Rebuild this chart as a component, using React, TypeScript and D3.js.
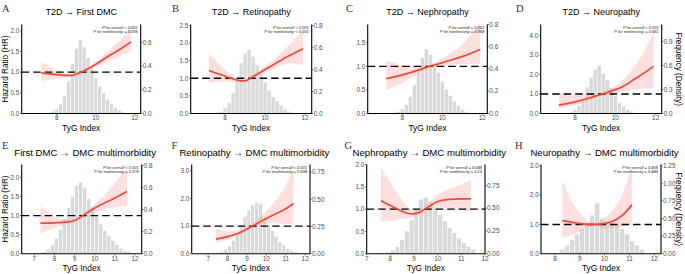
import React from "react";
import * as d3 from "d3";

// ---------- DATA ----------
const panelIds = ["A", "B", "C", "D", "E", "F", "G", "H"];
const titles = [
  "T2D → First DMC",
  "T2D → Retinopathy",
  "T2D → Nephropathy",
  "T2D → Neuropathy",
  "First DMC → DMC multimorbidity",
  "Retinopathy → DMC multimorbidity",
  "Nephropathy → DMC multimorbidity",
  "Neuropathy → DMC multimorbidity",
];
const pOverall = [
  "P for overall < 0.001",
  "P for overall < 0.001",
  "P for overall = 0.052",
  "P for overall < 0.001",
  "P for overall < 0.001",
  "P for overall < 0.001",
  "P for overall = 0.048",
  "P for overall = 0.408",
];
const pNonlinear = [
  "P for nonlinearity = 0.006",
  "P for nonlinearity < 0.001",
  "P for nonlinearity = 0.884",
  "P for nonlinearity = 0.561",
  "P for nonlinearity = 0.376",
  "P for nonlinearity = 0.834",
  "P for nonlinearity = 0.13",
  "P for nonlinearity = 0.449",
];

const binWidth = 0.2;
const histStarts = [7.3, 7.3, 7.5, 7.5, 7.2, 7.4, 7.6, 8.2];
const histA = [0.005, 0.01, 0.02, 0.04, 0.08, 0.15, 0.27, 0.42, 0.55, 0.62, 0.56, 0.47, 0.38, 0.3, 0.23, 0.17, 0.12, 0.08, 0.05, 0.03, 0.015];
const histB = [0.005, 0.01, 0.02, 0.05, 0.1, 0.19, 0.32, 0.46, 0.55, 0.58, 0.52, 0.44, 0.36, 0.28, 0.21, 0.15, 0.11, 0.07, 0.04, 0.02, 0.01];
const histC = [0.01, 0.02, 0.04, 0.08, 0.15, 0.26, 0.38, 0.5, 0.58, 0.53, 0.45, 0.37, 0.29, 0.22, 0.16, 0.11, 0.07, 0.04, 0.02];
const histD = [0.01, 0.02, 0.05, 0.1, 0.18, 0.33, 0.45, 0.55, 0.6, 0.5, 0.42, 0.32, 0.22, 0.14, 0.09, 0.05, 0.03, 0.01];
const histE = [0.01, 0.02, 0.04, 0.08, 0.14, 0.22, 0.32, 0.42, 0.52, 0.62, 0.65, 0.6, 0.5, 0.42, 0.34, 0.27, 0.21, 0.16, 0.12, 0.08, 0.05, 0.03, 0.02];
const histF = [0.01, 0.02, 0.04, 0.07, 0.12, 0.19, 0.27, 0.34, 0.4, 0.45, 0.47, 0.46, 0.33, 0.27, 0.21, 0.16, 0.11, 0.08, 0.05, 0.03, 0.02];
const histG = [0.01, 0.02, 0.04, 0.08, 0.15, 0.25, 0.37, 0.5, 0.6, 0.62, 0.57, 0.5, 0.43, 0.36, 0.29, 0.23, 0.17, 0.12, 0.08, 0.05];
const histH = [0.06, 0.12, 0.2, 0.28, 0.36, 0.42, 0.55, 0.72, 0.5, 0.47, 0.45, 0.42, 0.36, 0.28, 0.18, 0.12, 0.06];

// [TyG, HR, lower, upper]
type Pt = [number, number, number, number];
const curveA: Pt[] = [[7.2, 0.98, 0.78, 1.24], [7.8, 0.95, 0.83, 1.1], [8.4, 0.92, 0.87, 0.98], [8.8, 0.92, 0.9, 0.95], [9.1, 0.97, 0.96, 0.99], [9.6, 1.08, 1.04, 1.12], [10.2, 1.25, 1.17, 1.33], [10.8, 1.43, 1.3, 1.58], [11.4, 1.6, 1.42, 1.85], [11.8, 1.73, 1.5, 2.1]];
const curveB: Pt[] = [[7.2, 1.22, 0.87, 1.7], [7.8, 1.1, 0.9, 1.35], [8.4, 0.98, 0.9, 1.06], [8.8, 0.93, 0.9, 0.96], [9.0, 0.93, 0.91, 0.95], [9.4, 1.05, 1.0, 1.1], [10.0, 1.25, 1.17, 1.35], [10.6, 1.45, 1.3, 1.62], [11.2, 1.64, 1.42, 1.95], [11.9, 1.84, 1.38, 2.35]];
const curveC: Pt[] = [[7.2, 0.74, 0.5, 1.12], [8.0, 0.82, 0.65, 1.03], [8.8, 0.92, 0.85, 0.99], [9.2, 0.98, 0.95, 1.01], [9.6, 1.03, 0.98, 1.08], [10.4, 1.13, 1.02, 1.27], [11.2, 1.24, 1.05, 1.55], [11.9, 1.36, 1.05, 1.95]];
const curveD: Pt[] = [[7.2, 0.43, 0.26, 1.1], [8.0, 0.6, 0.42, 0.95], [8.8, 0.82, 0.7, 0.95], [9.2, 0.95, 0.88, 1.02], [9.8, 1.15, 1.0, 1.3], [10.4, 1.4, 1.12, 1.75], [11.0, 1.8, 1.22, 2.5], [11.6, 2.2, 1.28, 3.5], [11.9, 2.43, 1.3, 4.3]];
const curveE: Pt[] = [[7.3, 0.8, 0.53, 1.25], [8.0, 0.81, 0.68, 0.97], [8.6, 0.83, 0.76, 0.9], [9.0, 0.87, 0.83, 0.91], [9.4, 1.0, 0.95, 1.05], [10.0, 1.2, 1.08, 1.32], [10.6, 1.36, 1.18, 1.6], [11.0, 1.46, 1.22, 1.85], [11.6, 1.63, 1.25, 2.25]];
const curveF: Pt[] = [[7.4, 0.53, 0.4, 0.93], [8.0, 0.62, 0.5, 0.8], [8.6, 0.75, 0.67, 0.85], [9.2, 0.97, 0.9, 1.05], [9.8, 1.2, 1.05, 1.4], [10.4, 1.42, 1.1, 1.85], [11.0, 1.63, 1.08, 2.5], [11.4, 1.82, 1.05, 3.15]];
const curveG: Pt[] = [[7.6, 1.19, 0.72, 1.94], [8.0, 1.08, 0.74, 1.6], [8.5, 0.95, 0.78, 1.2], [8.9, 0.89, 0.82, 1.0], [9.2, 0.92, 0.88, 0.97], [9.6, 1.05, 0.95, 1.12], [10.0, 1.17, 1.02, 1.32], [10.5, 1.22, 1.02, 1.45], [11.0, 1.23, 0.98, 1.55], [11.4, 1.23, 0.95, 1.65]];
const curveH: Pt[] = [[8.3, 1.13, 0.55, 2.5], [8.7, 1.07, 0.65, 1.75], [9.1, 1.02, 0.8, 1.3], [9.5, 1.0, 0.95, 1.05], [9.9, 1.02, 0.9, 1.18], [10.3, 1.1, 0.88, 1.45], [10.7, 1.3, 0.92, 2.0], [11.1, 1.67, 0.98, 3.0]];

const hists = [histA, histB, histC, histD, histE, histF, histG, histH];
const curves = [curveA, curveB, curveC, curveD, curveE, curveF, curveG, curveH];

const xTicksTop = [8, 10, 12];
const xTicksBottom = [7, 8, 9, 10, 11, 12];
const xTicksH = [8, 9, 10, 11, 12];
const leftTicks = [
  [0, 0.5, 1.0, 1.5, 2.0],
  [0, 0.5, 1.0, 1.5, 2.0, 2.5],
  [0, 0.5, 1.0, 1.5],
  [0, 1, 2, 3, 4],
  [0, 0.5, 1.0, 1.5, 2.0],
  [0, 1, 2, 3],
  [0, 0.5, 1.0, 1.5, 2.0],
  [0, 1, 2, 3],
];
const rightTicks = [
  [0, 0.2, 0.4, 0.6],
  [0, 0.2, 0.4, 0.6, 0.8],
  [0, 0.2, 0.4, 0.6, 0.8],
  [0, 0.3, 0.6, 0.9],
  [0, 0.2, 0.4, 0.6, 0.8],
  [0, 0.25, 0.5, 0.75],
  [0, 0.25, 0.5, 0.75],
  [0, 0.25, 0.5, 0.75, 1.0, 1.25],
];
const leftDigits = [1, 1, 1, 1, 1, 1, 1, 1];
const rightDigits = [1, 1, 1, 1, 1, 2, 2, 2];
const xDomains: [number, number][] = [
  [6.2, 12.3], [6.28, 12.33], [6.27, 12.25], [6.3, 12.3],
  [6.37, 12.33], [6.15, 12.25], [7.0, 12.0], [7.44, 12.27],
];
const leftMax = [2.15, 2.53, 1.89, 4.57, 2.34, 3.23, 2.0, 3.05];
const rightMax = [0.75, 0.81, 0.8, 1.11, 0.81, 0.82, 0.98, 1.27];

// ---------- LAYOUT ----------
const plotBoxes = [
  { l: 21.7, r: 140.7, t: 24.5, b: 113.5, lx: 2, row: 0 },
  { l: 190.7, r: 311.7, t: 24.5, b: 113.5, lx: 172, row: 0 },
  { l: 367.7, r: 487.3, t: 24.5, b: 113.5, lx: 346, row: 0 },
  { l: 540.7, r: 661.7, t: 24.5, b: 113.5, lx: 516, row: 0 },
  { l: 21.7, r: 141.7, t: 164.5, b: 253.7, lx: 2, row: 1 },
  { l: 191.7, r: 310, t: 164.5, b: 253.7, lx: 171.5, row: 1 },
  { l: 366.7, r: 485, t: 164.5, b: 253.7, lx: 344.5, row: 1 },
  { l: 541, r: 661, t: 164.5, b: 253.7, lx: 515, row: 1 },
];

const SANS = "'Liberation Sans', Arial, sans-serif";
const SERIF = "'Liberation Serif', 'Times New Roman', serif";
const TICK_COLOR = "#4d4d4d";
const TICK_FONT = 6.4;

function Panel({ i }: { i: number }) {
  const box = plotBoxes[i];
  const x = d3.scaleLinear().domain(xDomains[i]).range([box.l, box.r]);
  const yL = d3.scaleLinear().domain([0, leftMax[i]]).range([box.b, box.t]);
  const yR = d3.scaleLinear().domain([0, rightMax[i]]).range([box.b, box.t]);
  const hist = hists[i];
  const start = histStarts[i];
  const curve = curves[i];
  const area = d3
    .area<Pt>()
    .x((d) => x(d[0]))
    .y0((d) => yL(d[2]))
    .y1((d) => yL(d[3]))
    .curve(d3.curveMonotoneX);
  const line = d3
    .line<Pt>()
    .x((d) => x(d[0]))
    .y((d) => yL(d[1]))
    .curve(d3.curveMonotoneX);
  const clipId = `clip-${i}`;
  const xTicks = i === 7 ? xTicksH : box.row === 0 ? xTicksTop : xTicksBottom;
  const cx = (box.l + box.r) / 2;
  const titleX = box.row === 0 ? cx : cx + 3.5;
  const titleY = box.row === 0 ? 14.5 : 156;
  const letterY = box.row === 0 ? 12 : 149;
  return (
    <g>
      <defs>
        <clipPath id={clipId}>
          <rect x={box.l} y={box.t} width={box.r - box.l} height={box.b - box.t} />
        </clipPath>
      </defs>
      <g clipPath={`url(#${clipId})`}>
        {hist.map((v, k) => {
          const x0 = start + k * binWidth;
          return (
            <rect
              key={k}
              x={x(x0)}
              width={x(x0 + binWidth) - x(x0)}
              y={yR(v)}
              height={yR(0) - yR(v)}
              fill="#d9d9d9"
              stroke="#ffffff"
              strokeWidth={0.5}
            />
          );
        })}
        <path d={area(curve) || ""} fill="#f6a3a3" fillOpacity={0.34} />
        <line
          x1={box.l}
          x2={box.r}
          y1={yL(1)}
          y2={yL(1)}
          stroke="#000"
          strokeWidth={1.4}
          strokeDasharray="7.5,4"
        />
        <path d={line(curve) || ""} fill="none" stroke="#ee4a36" strokeWidth={1.7} />
      </g>
      {/* axes */}
      <line x1={box.l} x2={box.l} y1={box.t} y2={box.b} stroke="#000" strokeWidth={1.1} />
      <line x1={box.r} x2={box.r} y1={box.t} y2={box.b} stroke="#000" strokeWidth={1.1} />
      <line x1={box.l} x2={box.r} y1={box.b} y2={box.b} stroke="#000" strokeWidth={1.1} />
      {leftTicks[i].map((t) => (
        <g key={`l${t}`}>
          <line x1={box.l - 1.8} x2={box.l} y1={yL(t)} y2={yL(t)} stroke="#333" strokeWidth={0.6} />
          <text
            x={box.l - 2.3}
            y={yL(t)}
            dy="0.35em"
            textAnchor="end"
            fontSize={TICK_FONT}
            fontFamily={SANS}
            fill={TICK_COLOR}
          >
            {t.toFixed(leftDigits[i])}
          </text>
        </g>
      ))}
      {rightTicks[i].map((t) => (
        <g key={`r${t}`}>
          <line x1={box.r} x2={box.r + 1.8} y1={yR(t)} y2={yR(t)} stroke="#333" strokeWidth={0.6} />
          <text
            x={box.r + 2}
            y={yR(t)}
            dy="0.35em"
            textAnchor="start"
            fontSize={TICK_FONT}
            fontFamily={SANS}
            fill={TICK_COLOR}
          >
            {t.toFixed(rightDigits[i])}
          </text>
        </g>
      ))}
      {xTicks.map((t) => (
        <g key={`x${t}`}>
          <line x1={x(t)} x2={x(t)} y1={box.b} y2={box.b + 1.8} stroke="#333" strokeWidth={0.6} />
          <text
            x={x(t)}
            y={box.b + 6.8}
            textAnchor="middle"
            fontSize={TICK_FONT}
            fontFamily={SANS}
            fill={TICK_COLOR}
          >
            {t}
          </text>
        </g>
      ))}
      <text x={cx} y={box.b + 17.3} textAnchor="middle" fontSize={8.4} fontFamily={SANS} fill="#000">
        TyG Index
      </text>
      <text x={titleX} y={titleY} textAnchor="middle" fontSize={box.row === 0 ? 9 : 9.6} fontFamily={SANS} fill="#000">
        {titles[i]}
      </text>
      <text x={box.lx} y={letterY} fontSize={10.5} fontFamily={SERIF} fill="#333">
        {panelIds[i]}
      </text>
      <text x={box.r - 3} y={box.t + 4} textAnchor="end" fontSize={4} fontStyle="italic" fontFamily={SANS} fill="#222">
        {pOverall[i]}
      </text>
      <text x={box.r - 3} y={box.t + 8.3} textAnchor="end" fontSize={4} fontStyle="italic" fontFamily={SANS} fill="#222">
        {pNonlinear[i]}
      </text>
      {i % 4 === 0 && (
        <text
          transform={`translate(8.2, ${(box.t + box.b) / 2}) rotate(-90)`}
          textAnchor="middle"
          fontSize={8.2}
          fontFamily={SANS}
          fill="#000"
        >
          Hazard Ratio (HR)
        </text>
      )}
      {i % 4 === 3 && (
        <text
          transform={`translate(675.5, ${(box.t + box.b) / 2}) rotate(90)`}
          textAnchor="middle"
          fontSize={8.2}
          fontFamily={SANS}
          fill="#000"
        >
          Frequency (Density)
        </text>
      )}
    </g>
  );
}

export default function App() {
  return (
    <svg
      width={685}
      height={274}
      style={{ position: "absolute", left: 0, top: 0, background: "#fff" }}
    >
      <rect width={685} height={274} fill="#fff" />
      {panelIds.map((_, i) => (
        <Panel key={i} i={i} />
      ))}
    </svg>
  );
}
